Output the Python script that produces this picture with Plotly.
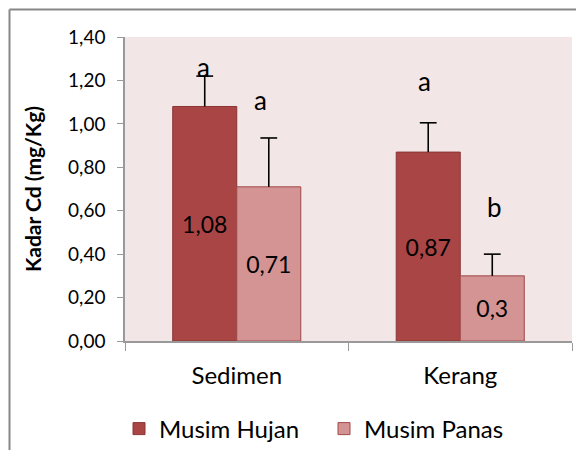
import plotly.graph_objects as go

categories = ["Sedimen", "Kerang"]
series_names = ["Musim Hujan", "Musim Panas"]
hujan = [1.08, 0.87]
panas = [0.71, 0.30]
hujan_err = [0.14, 0.135]
panas_err = [0.225, 0.10]
hujan_labels = ["1,08", "0,87"]
panas_labels = ["0,71", "0,3"]
hujan_letters = ["a", "a"]
panas_letters = ["a", "b"]
hujan_letter_y = [1.262, 1.197]
panas_letter_y = [1.110, 0.617]
ytick_vals = [0, 0.2, 0.4, 0.6, 0.8, 1.0, 1.2, 1.4]
ytick_text = ["0,00", "0,20", "0,40", "0,60", "0,80", "1,00", "1,20", "1,40"]

FONT = "Lato"
GAP = 0.427

# page body has an 8px margin, so the figure is sized to fit the window
W, H = 576, 442
L, R, T, B = 117, 12, 29, 109

fig = go.Figure()
series = [
    (series_names[0], hujan, hujan_err, hujan_labels, "#A94545", "#8B3535"),
    (series_names[1], panas, panas_err, panas_labels, "#D49494", "#A04848"),
]
for k, (name, vals, errs, labels, col, lcol) in enumerate(series):
    fig.add_trace(go.Bar(
        x=categories, y=vals, name=name, offsetgroup=str(k),
        marker=dict(color=col, line=dict(color=lcol, width=1)),
        text=labels, textposition="inside", insidetextanchor="middle",
        textfont=dict(family=FONT, size=23, color="black"),
        hoverinfo="skip",
    ))
# error bars: vertical stem from bar top, cap only at the upper end
for k, (name, vals, errs, labels, col, lcol) in enumerate(series):
    tops = [v + e for v, e in zip(vals, errs)]
    fig.add_trace(go.Scatter(
        x=categories, y=tops, mode="markers", offsetgroup=str(k), showlegend=False,
        marker=dict(symbol="line-ew", size=12, color="black", line=dict(color="black", width=1.6)),
        error_y=dict(type="data", array=[0] * len(vals), arrayminus=errs, symmetric=False,
                     color="black", thickness=1.6, width=0),
        hoverinfo="skip",
    ))

hujan_shift = [-33, -36]
panas_shift = [24, 34]
for i, c in enumerate(categories):
    fig.add_annotation(x=c, y=hujan_letter_y[i], text=hujan_letters[i], showarrow=False,
                       xshift=hujan_shift[i], font=dict(family=FONT, size=26, color="black"))
    fig.add_annotation(x=c, y=panas_letter_y[i], text=panas_letters[i], showarrow=False,
                       xshift=panas_shift[i], font=dict(family=FONT, size=26, color="black"))

# outer chart border (top and left visible)
pw = W - L - R
ph = H - T - B
bx = (1.5 - L) / pw
by = (H - B - 1.5) / ph
fig.add_shape(type="line", xref="paper", yref="paper", x0=bx, x1=(W + 5 - L) / pw, y0=by, y1=by,
              line=dict(color="#888888", width=2))
fig.add_shape(type="line", xref="paper", yref="paper", x0=bx, x1=bx, y0=by, y1=-(B + 5) / ph,
              line=dict(color="#888888", width=2))

fig.update_layout(
    width=W, height=H,
    margin=dict(l=L, r=R, t=T, b=B, autoexpand=False),
    paper_bgcolor="white",
    plot_bgcolor="#F2E6E6",
    barmode="group",
    bargap=GAP,
    bargroupgap=0,
    scattermode="group",
    scattergap=GAP,
    font=dict(family=FONT, color="black"),
    showlegend=True,
    legend=dict(orientation="h", xref="container", yref="container",
                x=111 / W, xanchor="left", y=1 - 421 / H, yanchor="middle",
                font=dict(family=FONT, size=24), itemwidth=30, traceorder="normal",
                entrywidth=160, entrywidthmode="pixels"),
    xaxis=dict(
        automargin=False,
        showline=True, linecolor="#999999", linewidth=1.5,
        ticks="outside", tickson="boundaries", ticklen=8, tickcolor="#999999",
        tickfont=dict(family=FONT, size=24), showgrid=False, ticklabelstandoff=12,
    ),
    yaxis=dict(
        automargin=False,
        range=[0, 1.4], tickvals=ytick_vals, ticktext=ytick_text,
        showline=True, linecolor="#999999", linewidth=1.5,
        ticks="outside", ticklen=6, tickcolor="#999999",
        tickfont=dict(family=FONT, size=19), showgrid=False, zeroline=False,
        ticklabelstandoff=8,
        title=dict(text="<b>Kadar Cd (mg/Kg)</b>", font=dict(family=FONT, size=21), standoff=21),
    ),
)

fig.write_html("out.html")
